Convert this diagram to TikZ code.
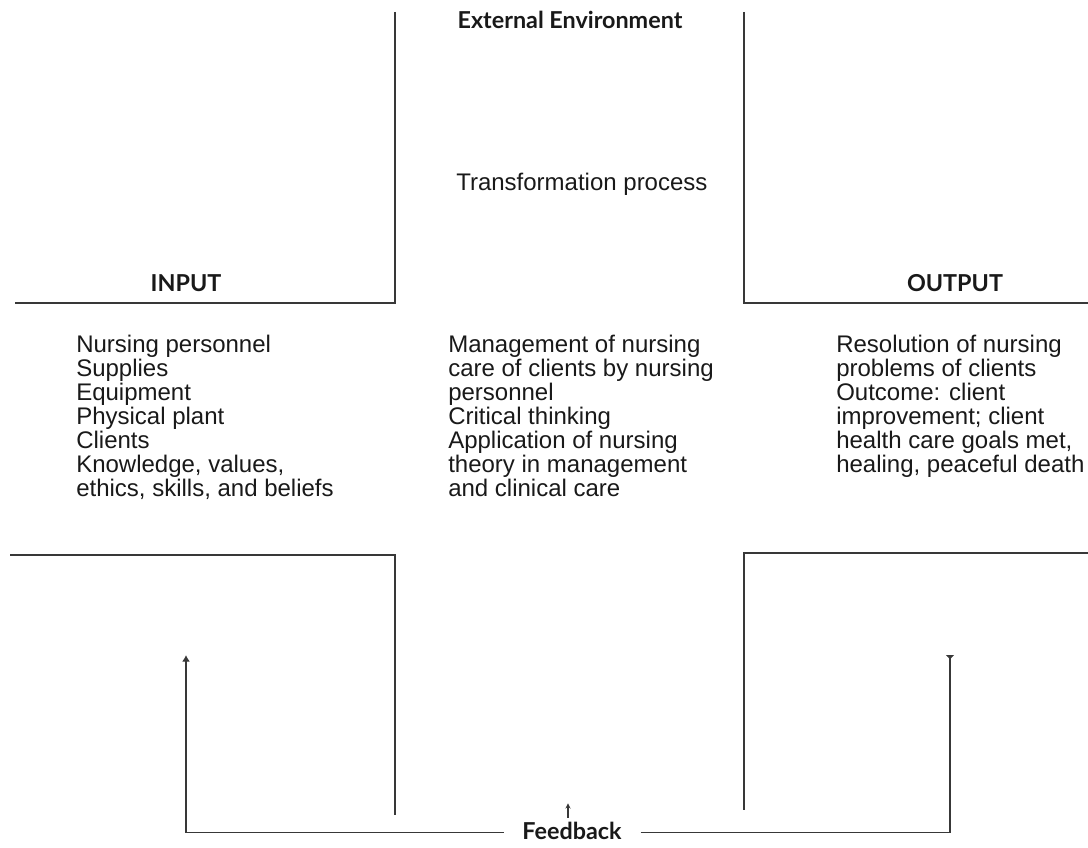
\documentclass[tikz,border=0pt]{standalone}
\usepackage{fontspec}
\setmainfont{Liberation Sans}
\newfontfamily\headfont{Lato}
\usetikzlibrary{arrows.meta}
\begin{document}
\begin{tikzpicture}[x=0.75pt,y=-0.75pt,
  frame/.style={draw=black!78, line width=0.9pt},
  body/.style={font=\fontsize{18}{18}\selectfont, align=left, inner sep=0pt, anchor=north west, text=black!90},
  head/.style={font=\headfont\bfseries\fontsize{17.5}{18}\selectfont, inner sep=0pt, text=black!90},
  bigtip/.style={-{Latex[length=5pt,width=6pt]}},
  revtip/.style={-{Latex[reversed,length=3.5pt,width=7pt]}},
  smalltip/.style={-{Stealth[length=4pt,width=4pt]}}]
\useasboundingbox (0,0) rectangle (1088,848);
% frame lines
\draw[frame] (395,12) -- (395,303) -- (15,303);
\draw[frame] (744,12) -- (744,303) -- (1088,303);
\draw[frame] (10,555) -- (395,555) -- (395,815);
\draw[frame] (1088,553) -- (744,553) -- (744,810);
% titles
\node[head] (ext) at (570,20) {External Environment};
\node[body, anchor=west] (trans) at (456,184) {Transformation process};
\node[head] (in) at (186,283) {INPUT};
\node[head] (out) at (955,283) {OUTPUT};
% lists
\node[body] (inlist) at (76,335) {Nursing personnel\\Supplies\\Equipment\\Physical plant\\Clients\\Knowledge, values,\\ethics, skills, and beliefs};
\node[body] (proc) at (448,335) {Management of nursing\\care of clients by nursing\\personnel\\Critical thinking\\Application of nursing\\theory in management\\and clinical care};
\node[body] (outlist) at (836,335) {Resolution of nursing\\problems of clients\\Outcome: client\\improvement; client\\health care goals met,\\healing, peaceful death};
% feedback
\node[head] (fb) at (572,831) {Feedback};
\coordinate (lt) at (186,655);
\coordinate (rt) at (950,655);
\draw[frame, bigtip] ([xshift=-14pt,yshift=-1pt]fb.west) -| (lt);
\draw[frame, revtip] ([xshift=14pt,yshift=-1pt]fb.east) -| (rt);
\draw[frame, smalltip] ([xshift=-3pt,yshift=3pt]fb.north) -- ([xshift=-3pt,yshift=14pt]fb.north);
\end{tikzpicture}
\end{document}
